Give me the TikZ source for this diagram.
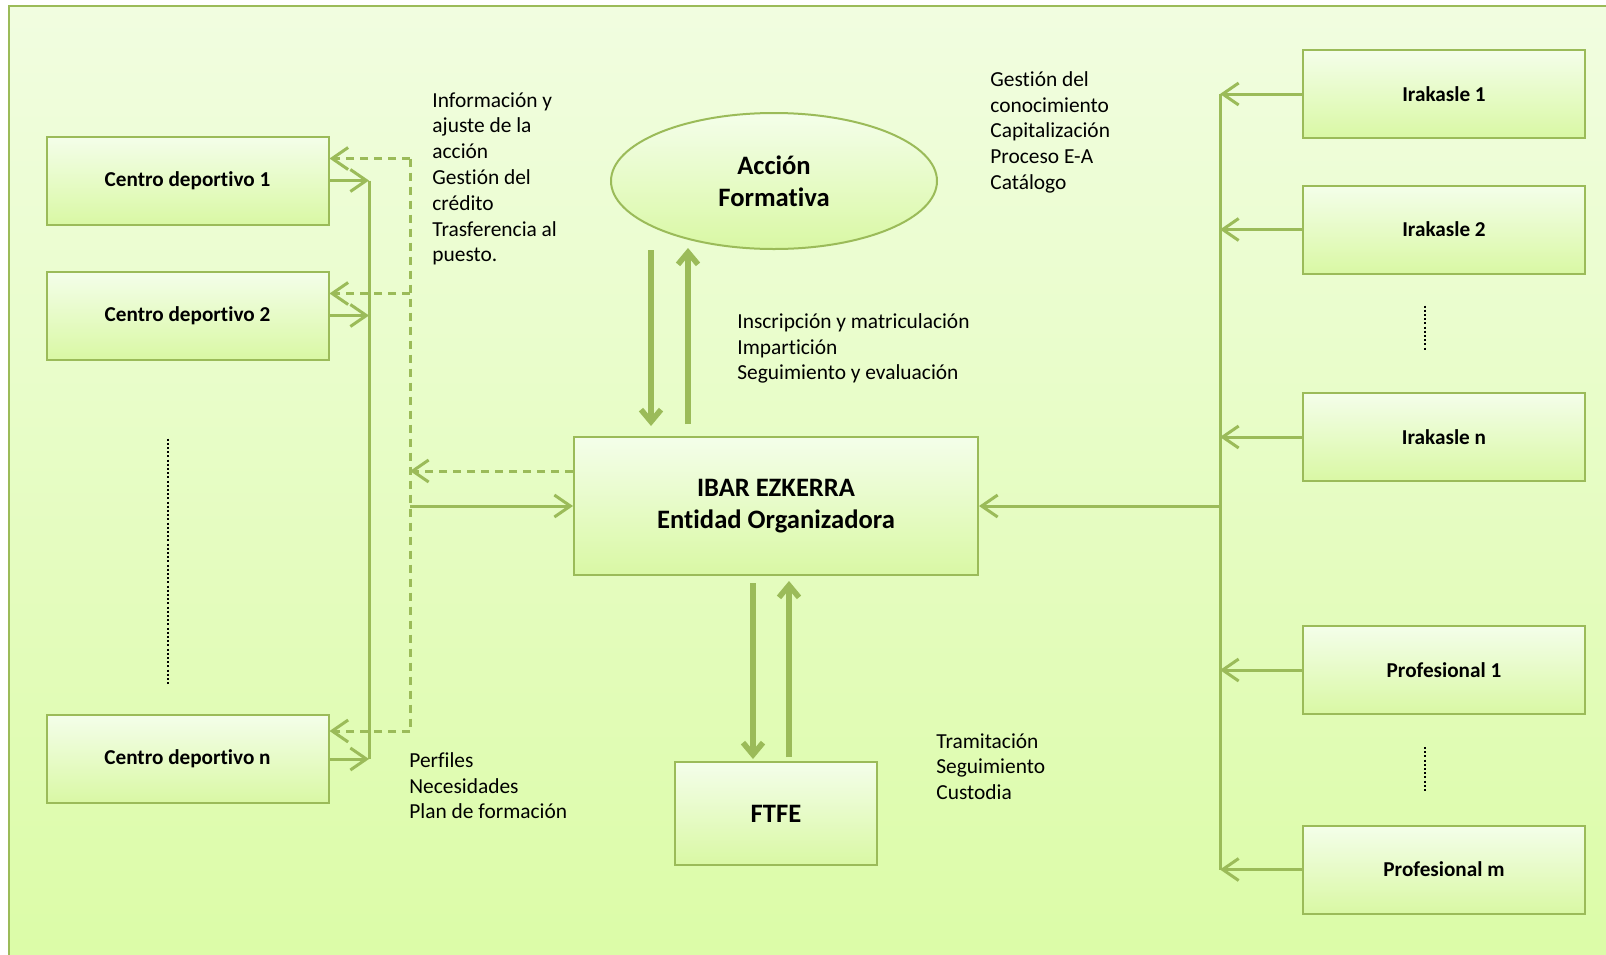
\documentclass[tikz,border=0pt]{standalone}
\usepackage{fontspec}
\setmainfont{Carlito}[Ligatures={NoCommon}]
\usepackage{tikz}
\usetikzlibrary{shapes,arrows}
\usetikzlibrary{positioning}
\usetikzlibrary{arrows.meta}
\definecolor{linegreen}{HTML}{9BBB59}
\definecolor{bgtop}{HTML}{F1FDE0}
\definecolor{bgbot}{HTML}{DBFCA6}
\definecolor{boxtop}{HTML}{F4FEEA}
\definecolor{boxbot}{HTML}{D9F8A4}
\tikzset{
	box/.style={draw=linegreen, line width=1pt, top color=boxtop, bottom color=boxbot, minimum width=141pt, minimum height=44pt, font=\bfseries\fontsize{10.6}{12}\selectfont},
	bigbox/.style={box, align=center, font=\bfseries\fontsize{13.3}{16}\selectfont},
	conn/.style={linegreen, line width=1.5pt, -{Straight Barb[length=8pt,width=11pt]}},
	dconn/.style={conn, dash pattern=on 4pt off 3pt},
	fat/.style={linegreen, line width=2.8pt, -{Straight Barb[length=6pt,width=10pt]}},
	dots/.style={black, line width=1.3pt, dash pattern=on 1pt off 1.1pt},
	note/.style={anchor=north west, inner sep=0pt, align=left, font=\fontsize{10.7}{12.9}\selectfont}
}
\begin{document}
\begin{tikzpicture}[x=0.5pt,y=-0.5pt]
	\useasboundingbox (0,0) rectangle (1606,954);
	\draw [linegreen, line width=1pt, top color=bgtop, bottom color=bgbot] (9,6) rectangle (1630,980);

	% left column
	\node [box] (cd1) at (187.5,180.5) {Centro deportivo 1};
	\node [box] (cd2) at (187.5,315.5) {Centro deportivo 2};
	\node [box] (cdn) at (187.5,759) {Centro deportivo n};

	% right column
	\node [box] (ir1) at (1444,94) {Irakasle 1};
	\node [box] (ir2) at (1444,229.5) {Irakasle 2};
	\node [box] (irn) at (1444,437) {Irakasle n};
	\node [box] (pr1) at (1444,670) {Profesional 1};
	\node [box] (prm) at (1444,869.5) {Profesional m};

	% middle
	\node [bigbox, ellipse, minimum width=163pt, minimum height=68pt] (accion) at (774,181) {Acción\\Formativa};
	\node [bigbox, minimum width=202pt, minimum height=69pt] (ibar) at (776,506) {IBAR EZKERRA\\Entidad Organizadora};
	\node [bigbox, minimum width=101pt, minimum height=51.5pt] (ftfe) at (776,813.5) {FTFE};

	% texts
	\node [note] (info) at (432,92) {Información y\\ajuste de la\\acción\\Gestión del\\crédito\\Trasferencia al\\puesto.};
	\node [note] (gest) at (990,71) {Gestión del\\conocimiento\\Capitalización\\Proceso E-A\\Catálogo};
	\node [note] (insc) at (737,313) {Inscripción y matriculación\\Impartición\\Seguimiento y evaluación};
	\node [note] (tram) at (936,733) {Tramitación\\Seguimiento\\Custodia};
	\node [note] (perf) at (409,752) {Perfiles\\Necesidades\\Plan de formación};

	\coordinate (lbus) at (369,506);
	\coordinate (dbus) at (410,506);
	\coordinate (rbus) at (1220,506);
	\coordinate (cd1d) at ([yshift=11pt]cd1.east);
	\coordinate (cd2d) at ([yshift=11pt]cd2.east);
	\coordinate (cdnd) at ([yshift=14pt]cdn.east);
	\coordinate (ibd) at ([yshift=17.5pt]ibar.west);

	% centros -> ibar
	\draw [conn] (cd1.east) -- (cd1.east -| lbus);
	\draw [conn] (cd2.east) -- (cd2.east -| lbus);
	\draw [conn] (cdn.east) -- (cdn.east -| lbus);
	\draw [linegreen, line width=1.5pt] (cd1.east -| lbus) -- (cdn.east -| lbus);
	\draw [conn] (ibar.west -| dbus) -- (ibar.west);

	% ibar -> centros (dashed)
	\draw [dconn] (ibd) -- (ibd -| dbus);
	\draw [linegreen, line width=1.5pt, dash pattern=on 4pt off 3pt] (cd1d -| dbus) -- (cdnd -| dbus);
	\draw [dconn] (cd1d -| dbus) -- (cd1d);
	\draw [dconn] (cd2d -| dbus) -- (cd2d);
	\draw [dconn] (cdnd -| dbus) -- (cdnd);

	% irakasle / profesional -> ibar
	\draw [conn] (ir1.west) -- (ir1.west -| rbus);
	\draw [conn] (ir2.west) -- (ir2.west -| rbus);
	\draw [conn] (irn.west) -- (irn.west -| rbus);
	\draw [conn] (pr1.west) -- (pr1.west -| rbus);
	\draw [conn] (prm.west) -- (prm.west -| rbus);
	\draw [linegreen, line width=1.5pt] (ir1.west -| rbus) -- (prm.west -| rbus);
	\draw [conn] (rbus) -- (ibar.east);

	% accion <-> ibar, ibar <-> ftfe
	\draw [fat] ([xshift=-61.5pt]accion.south) -- ++(0,176);
	\draw [fat] ([xshift=-44pt,yshift=6pt]ibar.north) -- ++(0,-176);
	\draw [fat] ([xshift=-11.5pt,yshift=-3.5pt]ibar.south) -- ++(0,176);
	\draw [fat] ([xshift=6.5pt,yshift=2pt]ftfe.north) -- ++(0,-176);

	% dots
	\draw [dots] ([xshift=-9.75pt]cd2.south) ++(0,78) -- ++(0,245);
	\draw [dots] ([xshift=-9.5pt]ir2.south) ++(0,31) -- ++(0,46);
	\draw [dots] ([xshift=-9.5pt]pr1.south) ++(0,32) -- ++(0,45);
\end{tikzpicture}
\end{document}
